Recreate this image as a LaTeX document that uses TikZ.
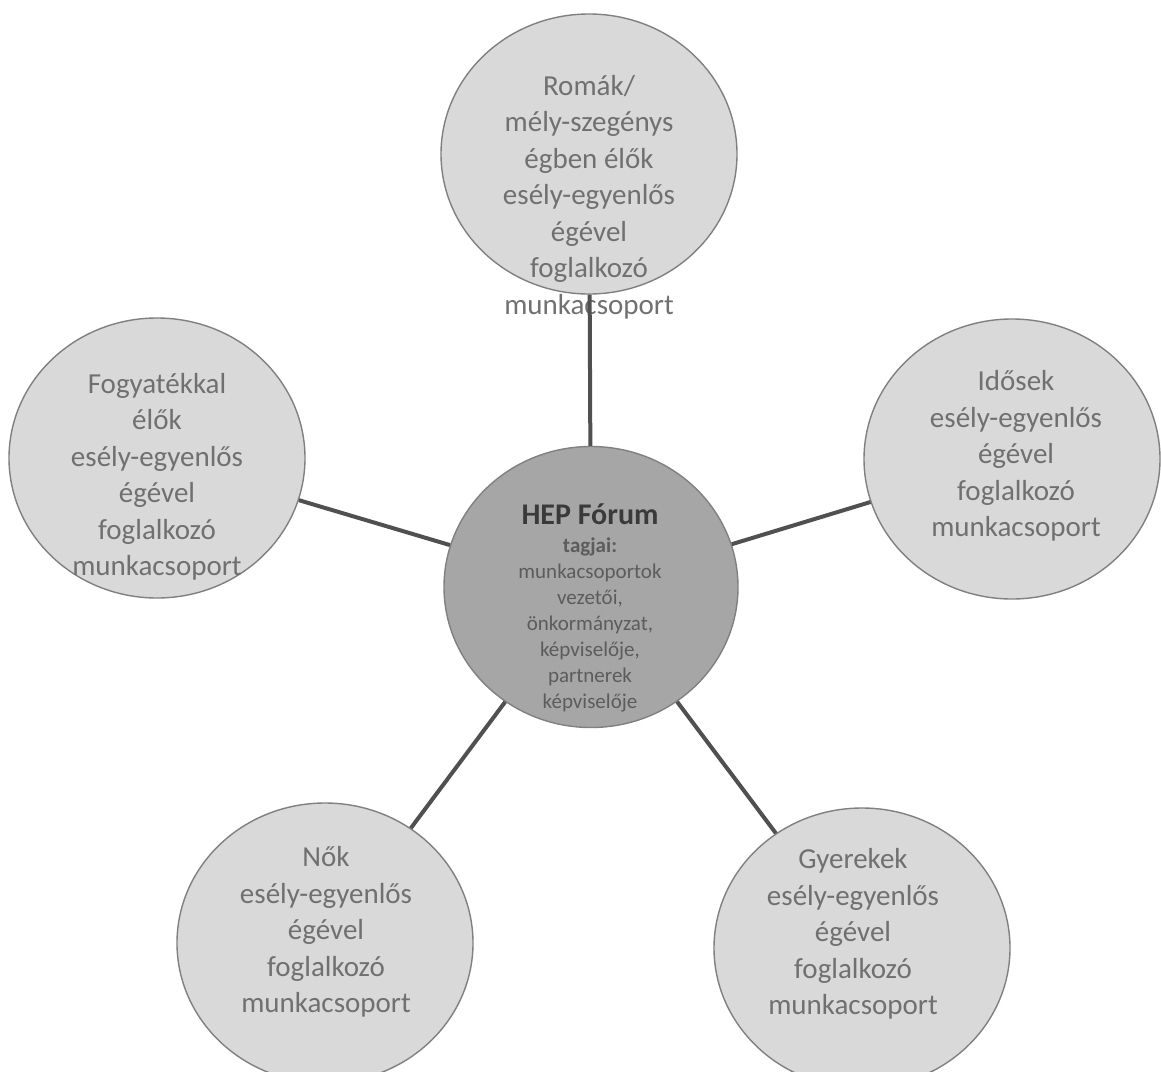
\documentclass[tikz,border=0pt]{standalone}
\usepackage{fontspec}
\setmainfont{Carlito}
\usetikzlibrary{shapes.geometric}
\definecolor{outerfill}{HTML}{D9D9D9}
\definecolor{outerdraw}{HTML}{808080}
\definecolor{centerfill}{HTML}{A6A6A6}
\definecolor{linkcol}{HTML}{505050}
\definecolor{outertext}{HTML}{707070}
\definecolor{centertext}{HTML}{5C5C5C}
\definecolor{hepcol}{HTML}{3A3A3A}
\tikzset{
  bubble/.style={ellipse, draw=outerdraw, line width=1.4pt, fill=outerfill,
    minimum width=296pt, minimum height=280pt, inner sep=0pt},
  hub/.style={bubble, fill=centerfill, minimum width=294pt, minimum height=281pt},
  bubbletext/.style={align=center, text=outertext, inner sep=0pt,
    font=\fontsize{29}{36.5}\selectfont},
  hubtext/.style={align=center, text=centertext, inner sep=0pt,
    font=\fontsize{21}{26}\selectfont},
  link/.style={draw=linkcol, line width=4pt}
}
\begin{document}
\begin{tikzpicture}[x=1pt,y=-1pt]
\useasboundingbox (0,0) rectangle (1161,1071);
% circles
\node[bubble] (roma) at (589,154) {};
\node[bubble] (fogy) at (157,458) {};
\node[bubble] (idos) at (1012,459) {};
\node[bubble] (nok) at (325,943) {};
\node[bubble] (gyer) at (862,948) {};
\node[hub] (hep) at (591,587) {};
% texts
\node[bubbletext] (romaT) at (589,197) {Romák/\\mély-szegénys\\égben élők\\esély-egyenlős\\égével\\foglalkozó\\munkacsoport};
\node[bubbletext] (fogyT) at (157,477) {Fogyatékkal\\élők\\esély-egyenlős\\égével\\foglalkozó\\munkacsoport};
\node[bubbletext] (idosT) at (1016,456) {Idősek\\esély-egyenlős\\égével\\foglalkozó\\munkacsoport};
\node[bubbletext] (nokT) at (326,932) {Nők\\esély-egyenlős\\égével\\foglalkozó\\munkacsoport};
\node[bubbletext] (gyerT) at (853,934) {Gyerekek\\esély-egyenlős\\égével\\foglalkozó\\munkacsoport};
\node[hubtext] (hepT) at (590,608) {{\fontsize{30}{32}\selectfont\bfseries\color{hepcol}HEP Fórum}\\[2pt]\textbf{tagjai:}\\munkacsoportok\\vezetői,\\önkormányzat,\\képviselője,\\partnerek\\képviselője};
% connectors
\draw[link] (hep) -- (roma);
\draw[link] (hep) -- (fogy);
\draw[link] (hep) -- (idos);
\draw[link] (hep) -- (nok);
\draw[link] (hep) -- (gyer);
\end{tikzpicture}
\end{document}
